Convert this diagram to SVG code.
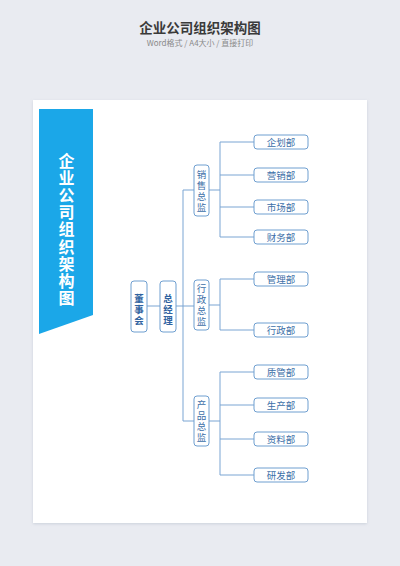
<svg xmlns="http://www.w3.org/2000/svg" width="400" height="566" viewBox="0 0 400 566">
<defs>
<style>
.cjk{font-family:"Noto Sans CJK SC","Noto Sans",sans-serif;}
.box{fill:#fff;stroke:#6f9fd0;stroke-width:1;}
.dept{font-size:9.5px;fill:#3c6fa8;text-anchor:middle;}
.dir{font-size:9.5px;fill:#3c6fa8;text-anchor:middle;}
.top{font-size:9.5px;fill:#2f62a0;text-anchor:middle;font-weight:bold;}
.ln{stroke:#7aa5d3;stroke-width:1;fill:none;}
</style>
<filter id="sh" x="-5%" y="-5%" width="110%" height="110%">
<feDropShadow dx="0" dy="1" stdDeviation="1.5" flood-color="#b8bfcc" flood-opacity="0.6"/>
</filter>
</defs>
<rect x="0" y="0" width="400" height="566" fill="#e9ebf1"/>
<text class="cjk" x="200" y="33" font-size="13.5" font-weight="bold" fill="#3a3a3a" text-anchor="middle">企业公司组织架构图</text>
<text class="cjk" x="200" y="46" font-size="8" fill="#8a8a8a" text-anchor="middle">Word格式 / A4大小 / 直接打印</text>
<rect x="33" y="100" width="334" height="423" fill="#ffffff" filter="url(#sh)"/>
<g id="banner">
<polygon points="39,109 93,109 93,315 39,334" fill="#1ba7e8"/>
<text class="cjk" font-size="16" font-weight="bold" fill="#ffffff" text-anchor="middle">
<tspan x="66.5" y="167">企</tspan><tspan x="66.5" y="184.1">业</tspan><tspan x="66.5" y="201.2">公</tspan><tspan x="66.5" y="218.3">司</tspan><tspan x="66.5" y="235.4">组</tspan><tspan x="66.5" y="252.5">织</tspan><tspan x="66.5" y="269.6">架</tspan><tspan x="66.5" y="286.7">构</tspan><tspan x="66.5" y="303.8">图</tspan>
</text>
</g>
<g id="connectors" class="ln">
<line x1="147" y1="306" x2="160" y2="306"/>
<line x1="176" y1="306" x2="194" y2="306"/>
<line x1="183" y1="190" x2="183" y2="421"/>
<line x1="183" y1="190" x2="194" y2="190"/>
<line x1="183" y1="421" x2="194" y2="421"/>
<line x1="209" y1="190" x2="220" y2="190"/>
<line x1="220" y1="142" x2="220" y2="237"/>
<line x1="220" y1="142" x2="254" y2="142"/>
<line x1="220" y1="175" x2="254" y2="175"/>
<line x1="220" y1="207" x2="254" y2="207"/>
<line x1="220" y1="237" x2="254" y2="237"/>
<line x1="209" y1="305" x2="220" y2="305"/>
<line x1="220" y1="279" x2="220" y2="330"/>
<line x1="220" y1="279" x2="254" y2="279"/>
<line x1="220" y1="330" x2="254" y2="330"/>
<line x1="209" y1="421" x2="220" y2="421"/>
<line x1="220" y1="372" x2="220" y2="475"/>
<line x1="220" y1="372" x2="254" y2="372"/>
<line x1="220" y1="405" x2="254" y2="405"/>
<line x1="220" y1="439" x2="254" y2="439"/>
<line x1="220" y1="475" x2="254" y2="475"/>
</g>
<g id="dongshihui">
<rect class="box" x="131" y="281" width="16" height="51" rx="3"/>
<text class="cjk top"><tspan x="139" y="302">董</tspan><tspan x="139" y="313">事</tspan><tspan x="139" y="324">会</tspan></text>
</g>
<g id="zongjingli">
<rect class="box" x="160" y="281" width="16" height="51" rx="3"/>
<text class="cjk top"><tspan x="168" y="302">总</tspan><tspan x="168" y="313">经</tspan><tspan x="168" y="324">理</tspan></text>
</g>
<g id="xiaoshou">
<rect class="box" x="194" y="165" width="15" height="51" rx="3"/>
<text class="cjk dir"><tspan x="201.5" y="177.5">销</tspan><tspan x="201.5" y="188.5">售</tspan><tspan x="201.5" y="199.5">总</tspan><tspan x="201.5" y="210.5">监</tspan></text>
</g>
<g id="xingzheng">
<rect class="box" x="194" y="280" width="15" height="50" rx="3"/>
<text class="cjk dir"><tspan x="201.5" y="292">行</tspan><tspan x="201.5" y="303">政</tspan><tspan x="201.5" y="314">总</tspan><tspan x="201.5" y="325">监</tspan></text>
</g>
<g id="chanpin">
<rect class="box" x="194" y="396" width="15" height="50" rx="3"/>
<text class="cjk dir"><tspan x="201.5" y="408">产</tspan><tspan x="201.5" y="419">品</tspan><tspan x="201.5" y="430">总</tspan><tspan x="201.5" y="441">监</tspan></text>
</g>
<g id="qihua"><rect class="box" x="254" y="135" width="54" height="14" rx="3"/><text class="cjk dept" x="281" y="145.5">企划部</text></g>
<g id="yingxiao"><rect class="box" x="254" y="168" width="54" height="14" rx="3"/><text class="cjk dept" x="281" y="178.5">营销部</text></g>
<g id="shichang"><rect class="box" x="254" y="200" width="54" height="14" rx="3"/><text class="cjk dept" x="281" y="210.5">市场部</text></g>
<g id="caiwu"><rect class="box" x="254" y="230" width="54" height="14" rx="3"/><text class="cjk dept" x="281" y="240.5">财务部</text></g>
<g id="guanli"><rect class="box" x="254" y="272" width="54" height="14" rx="3"/><text class="cjk dept" x="281" y="282.5">管理部</text></g>
<g id="xingzhengbu"><rect class="box" x="254" y="323" width="54" height="14" rx="3"/><text class="cjk dept" x="281" y="333.5">行政部</text></g>
<g id="zhiguan"><rect class="box" x="254" y="365" width="54" height="14" rx="3"/><text class="cjk dept" x="281" y="375.5">质管部</text></g>
<g id="shengchan"><rect class="box" x="254" y="398" width="54" height="14" rx="3"/><text class="cjk dept" x="281" y="408.5">生产部</text></g>
<g id="ziliao"><rect class="box" x="254" y="432" width="54" height="14" rx="3"/><text class="cjk dept" x="281" y="442.5">资料部</text></g>
<g id="yanfa"><rect class="box" x="254" y="468" width="54" height="14" rx="3"/><text class="cjk dept" x="281" y="478.5">研发部</text></g>
</svg>
